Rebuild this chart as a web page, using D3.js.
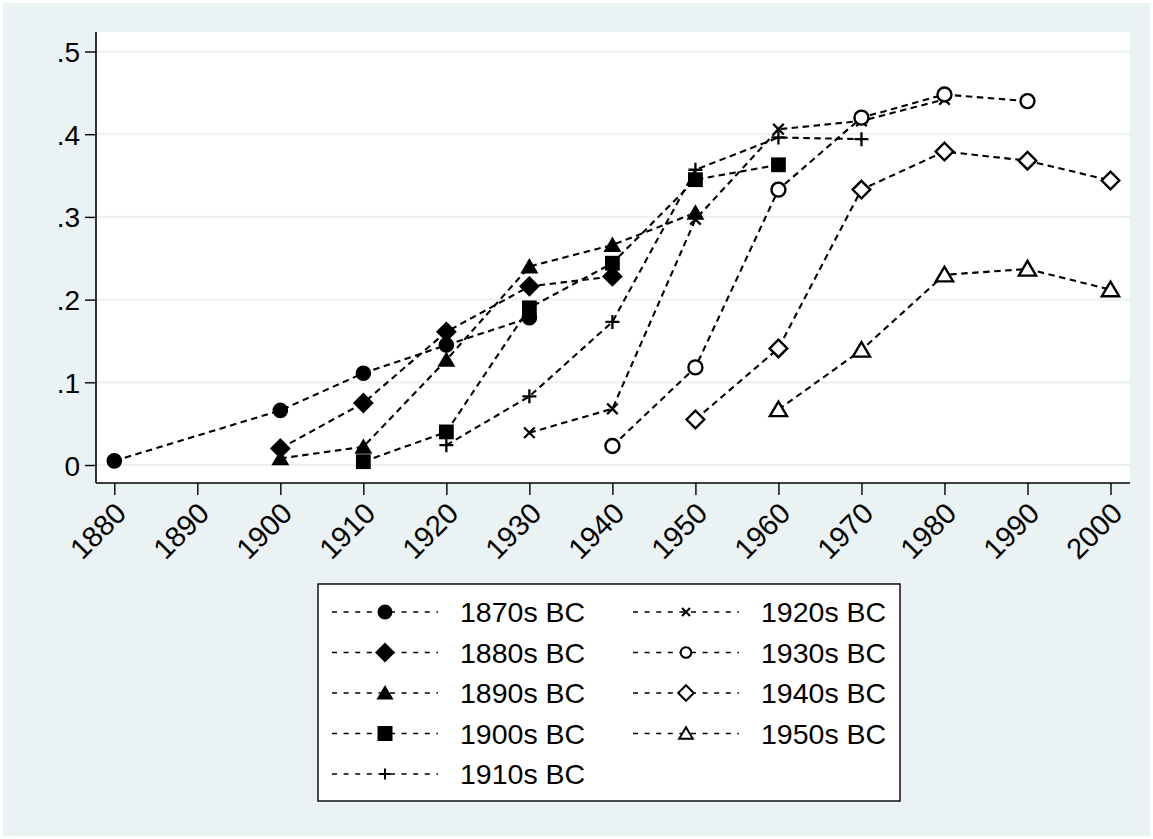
<!DOCTYPE html>
<html>
<head>
<meta charset="utf-8">
<script src="https://cdn.jsdelivr.net/npm/d3@7"></script>
<style>
  body { margin: 0; background: #ffffff; }
  text { font-family: "Liberation Sans", Arial, Helvetica, sans-serif; fill: #000; }
</style>
</head>
<body>
<div id="chart"></div>
<script>
// ---- data ----
var xTickValues = [1880, 1890, 1900, 1910, 1920, 1930, 1940, 1950, 1960, 1970, 1980, 1990, 2000];
var yTickValues = [0, 0.1, 0.2, 0.3, 0.4, 0.5];
var yTickLabels = ["0", ".1", ".2", ".3", ".4", ".5"];

var seriesNames = ["1870s BC", "1880s BC", "1890s BC", "1900s BC", "1910s BC",
                   "1920s BC", "1930s BC", "1940s BC", "1950s BC"];

var years1870s = [1880, 1900, 1910, 1920, 1930];
var vals1870s  = [0.005, 0.066, 0.111, 0.145, 0.178];
var years1880s = [1900, 1910, 1920, 1930, 1940];
var vals1880s  = [0.020, 0.075, 0.161, 0.216, 0.228];
var years1890s = [1900, 1910, 1920, 1930, 1940, 1950];
var vals1890s  = [0.008, 0.022, 0.127, 0.240, 0.266, 0.305];
var years1900s = [1910, 1920, 1930, 1940, 1950, 1960];
var vals1900s  = [0.004, 0.040, 0.190, 0.244, 0.345, 0.363];
var years1910s = [1920, 1930, 1940, 1950, 1960, 1970];
var vals1910s  = [0.024, 0.083, 0.173, 0.357, 0.396, 0.394];
var years1920s = [1930, 1940, 1950, 1960, 1970, 1980];
var vals1920s  = [0.039, 0.068, 0.297, 0.406, 0.416, 0.442];
var years1930s = [1940, 1950, 1960, 1970, 1980, 1990];
var vals1930s  = [0.023, 0.118, 0.333, 0.420, 0.448, 0.440];
var years1940s = [1950, 1960, 1970, 1980, 1990, 2000];
var vals1940s  = [0.055, 0.141, 0.333, 0.379, 0.368, 0.344];
var years1950s = [1960, 1970, 1980, 1990, 2000];
var vals1950s  = [0.067, 0.139, 0.230, 0.237, 0.212];

var allYears = [years1870s, years1880s, years1890s, years1900s, years1910s,
                years1920s, years1930s, years1940s, years1950s];
var allVals  = [vals1870s, vals1880s, vals1890s, vals1900s, vals1910s,
                vals1920s, vals1930s, vals1940s, vals1950s];

// marker style per series: shape name, filled or hollow
var markerShapes = ["circle", "diamond", "triangle", "square", "plus",
                    "times", "circle", "diamond", "triangle"];
var markerFilled = [true, true, true, true, true, true, false, false, false];

// ---- layout ----
var W = 1153, H = 839;
var plot = {left: 96, top: 32, right: 1130, bottom: 483};
var BG = "#eaf2f3";

var svg = d3.select("#chart")
  .append("svg")
  .attr("width", W)
  .attr("height", H);

// outer graph region
svg.append("rect")
  .attr("x", 3).attr("y", 3)
  .attr("width", W - 6).attr("height", H - 6)
  .attr("fill", BG);

// plot region
svg.append("rect")
  .attr("x", plot.left).attr("y", plot.top)
  .attr("width", plot.right - plot.left)
  .attr("height", plot.bottom - plot.top)
  .attr("fill", "#ffffff");

var x = d3.scaleLinear()
  .domain([1880, 2000])
  .range([114.3, 1110.5]);

var y = d3.scaleLinear()
  .domain([0, 0.5])
  .range([465, 51.5]);

// gridlines
svg.append("g")
  .selectAll("line")
  .data(yTickValues)
  .enter()
  .append("line")
  .attr("x1", plot.left)
  .attr("x2", plot.right)
  .attr("y1", d => y(d))
  .attr("y2", d => y(d))
  .attr("stroke", BG)
  .attr("stroke-width", 2.2);

// y axis
var yAxis = svg.append("g")
  .attr("transform", "translate(" + plot.left + ",0)")
  .call(d3.axisLeft(y)
    .tickValues(yTickValues)
    .tickFormat((d, i) => yTickLabels[i])
    .tickSize(11)
    .tickPadding(5));
yAxis.select(".domain").remove();
yAxis.selectAll(".tick line").attr("stroke", "#000").attr("stroke-width", 1.4);
yAxis.selectAll("text")
  .attr("font-family", "Liberation Sans, Arial, sans-serif")
  .style("font-size", "28px")
  .attr("dy", "0.36em");

// x axis
var xAxis = svg.append("g")
  .attr("transform", "translate(0," + plot.bottom + ")")
  .call(d3.axisBottom(x)
    .tickValues(xTickValues)
    .tickFormat(d3.format("d"))
    .tickSize(12));
xAxis.select(".domain").remove();
xAxis.selectAll(".tick line").attr("stroke", "#000").attr("stroke-width", 1.4);
xAxis.selectAll("text")
  .attr("font-family", "Liberation Sans, Arial, sans-serif")
  .style("font-size", "29px")
  .attr("y", 0)
  .attr("dy", "0.35em")
  .attr("text-anchor", "end")
  .attr("transform", "translate(6,25)rotate(-45)");

// axis lines
svg.append("line")
  .attr("x1", plot.left).attr("x2", plot.left)
  .attr("y1", plot.top).attr("y2", plot.bottom)
  .attr("stroke", "#000").attr("stroke-width", 1.6);
svg.append("line")
  .attr("x1", plot.left).attr("x2", plot.right)
  .attr("y1", plot.bottom).attr("y2", plot.bottom)
  .attr("stroke", "#000").attr("stroke-width", 1.6);

// marker shapes, size = half width
var shapes = {
  circle: { draw: function(c, r) { c.moveTo(r, 0); c.arc(0, 0, r, 0, 2 * Math.PI); } },
  square: { draw: function(c, r) { c.rect(-r, -r, 2 * r, 2 * r); } },
  diamond: { draw: function(c, r) { c.moveTo(0, -r); c.lineTo(r, 0); c.lineTo(0, r); c.lineTo(-r, 0); c.closePath(); } },
  triangle: { draw: function(c, r) { var h = r * 1.7; c.moveTo(0, -h * 0.55); c.lineTo(r, h * 0.45); c.lineTo(-r, h * 0.45); c.closePath(); } },
  plus: { draw: function(c, r) { c.moveTo(-r, 0); c.lineTo(r, 0); c.moveTo(0, -r); c.lineTo(0, r); } },
  times: { draw: function(c, r) { c.moveTo(-r, -r); c.lineTo(r, r); c.moveTo(-r, r); c.lineTo(r, -r); } }
};
// half widths in the plot
var plotSizes = {circle: 7.8, square: 7.4, diamond: 10.4, triangle: 9, plus: 7, times: 5.3};
var hollowSizes = {circle: 7, diamond: 8.8, triangle: 8.6};

function markerPath(shape, r) {
  return d3.symbol().type(shapes[shape]).size(r)();
}

function styleMarker(sel, i) {
  var shape = markerShapes[i];
  if (markerFilled[i] && shape !== "plus" && shape !== "times") {
    sel.attr("fill", "#000").attr("stroke", "none");
  } else if (shape === "plus" || shape === "times") {
    sel.attr("fill", "none").attr("stroke", "#000").attr("stroke-width", 2.3);
  } else {
    sel.attr("fill", "#fff").attr("stroke", "#000").attr("stroke-width", 2.4);
  }
}

var line = d3.line()
  .x(d => x(d[0]))
  .y(d => y(d[1]));

// series: line then markers, in order
seriesNames.forEach(function(name, i) {
  var pts = allYears[i].map((yr, j) => [yr, allVals[i][j]]);
  var g = svg.append("g").attr("class", "series");
  g.append("path")
    .datum(pts)
    .attr("d", line)
    .attr("fill", "none")
    .attr("stroke", "#000")
    .attr("stroke-width", 2.1)
    .attr("stroke-dasharray", "6.5,4.5");
  var shape = markerShapes[i];
  var r = markerFilled[i] ? plotSizes[shape] : hollowSizes[shape];
  g.selectAll("path.mk")
    .data(pts)
    .enter()
    .append("path")
    .attr("class", "mk")
    .attr("d", markerPath(shape, r))
    .attr("transform", d => "translate(" + x(d[0]) + "," + y(d[1]) + ")")
    .call(styleMarker, i);
});

// ---- legend ----
var legend = {left: 318, top: 584, right: 900, bottom: 801};
svg.append("rect")
  .attr("x", legend.left).attr("y", legend.top)
  .attr("width", legend.right - legend.left)
  .attr("height", legend.bottom - legend.top)
  .attr("fill", "#fff")
  .attr("stroke", "#000")
  .attr("stroke-width", 1.4);

var legendRowY = d3.scalePoint().domain(d3.range(5)).range([612, 774]);
var legendColX = [332, 633];
var LEG_LINE = 106, LEG_TEXT_GAP = 128;
var legendSizes = {circle: 7.5, square: 7.5, diamond: 10, triangle: 8.6, plus: 5.5, times: 4};
var legendHollow = {circle: 5.3, diamond: 7.8, triangle: 6.8};

seriesNames.forEach(function(name, i) {
  var col = i < 5 ? 0 : 1;
  var row = i < 5 ? i : i - 5;
  var lx = legendColX[col], ly = legendRowY(row);
  var g = svg.append("g").attr("class", "legend-item");
  g.append("line")
    .attr("x1", lx).attr("x2", lx + LEG_LINE)
    .attr("y1", ly).attr("y2", ly)
    .attr("stroke", "#000")
    .attr("stroke-width", 1.4)
    .attr("stroke-dasharray", "5,6.6");
  var shape = markerShapes[i];
  var r = markerFilled[i] ? legendSizes[shape] : legendHollow[shape];
  g.append("path")
    .attr("d", markerPath(shape, r))
    .attr("transform", "translate(" + (lx + LEG_LINE / 2) + "," + ly + ")")
    .call(styleMarker, i)
    .filter(() => !markerFilled[i] || shape === "times" || shape === "plus")
    .attr("stroke-width", 2);
  g.append("text")
    .attr("x", lx + LEG_TEXT_GAP)
    .attr("y", ly)
    .attr("dy", "0.36em")
    .style("font-size", "28.5px")
    .text(name);
});
</script>
</body>
</html>
